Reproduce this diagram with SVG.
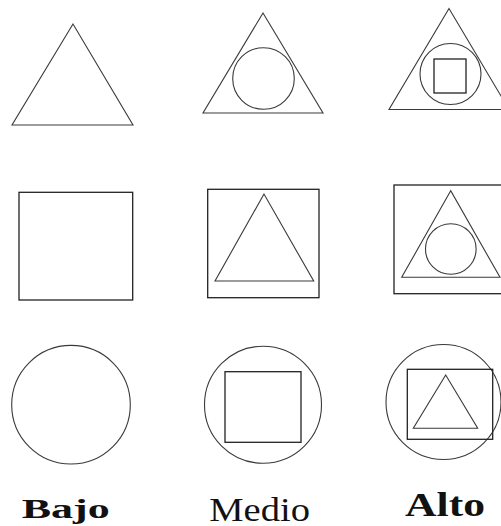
<svg xmlns="http://www.w3.org/2000/svg" width="501" height="526" viewBox="0 0 501 526">
<style>
.s{fill:none;stroke:#3a3a3a;stroke-width:1.1}
.q{fill:none;stroke:#222;stroke-width:1.3}
.t{font-family:"Liberation Serif",serif;fill:#111}
</style>
<rect width="501" height="526" fill="#fff"/>
<g id="bajo-triangle"><polygon class="s" points="73,24 12,125 133,125"/></g>
<g id="medio-triangle"><polygon class="s" points="263,13 203,113 323,113"/><circle class="s" cx="263.5" cy="78.5" r="30.8"/></g>
<g id="alto-triangle"><polygon class="s" points="449,8.5 389,109.5 509,109.5"/><circle class="s" cx="450.5" cy="74" r="30.5"/><rect class="q" x="434" y="59" width="32" height="34"/></g>
<g id="bajo-square"><rect class="q" x="19" y="192.3" width="113.7" height="107.7"/></g>
<g id="medio-square"><rect class="q" x="207.7" y="189.3" width="111.3" height="108.4"/><polygon class="s" points="264,194 215,281 313.7,281"/></g>
<g id="alto-square"><rect class="q" x="394" y="185" width="110" height="108.7"/><polygon class="s" points="450.7,190.7 401.7,277.3 500,277.3"/><circle class="s" cx="450.8" cy="249" r="25.3"/></g>
<g id="bajo-circle"><circle class="s" cx="71" cy="404.7" r="59.3"/></g>
<g id="medio-circle"><circle class="s" cx="263" cy="404.7" r="58.5"/><rect class="q" x="225" y="371.7" width="76" height="70.6"/></g>
<g id="alto-circle"><circle class="s" cx="443.5" cy="402" r="57.5"/><rect class="q" x="407.3" y="369.3" width="85.4" height="70"/><polygon class="s" points="445.7,375 413.3,428.3 477.7,428.3"/></g>
<g id="labels">
<text class="t" x="21.7" y="518.3" font-size="28" font-weight="bold" textLength="88" lengthAdjust="spacingAndGlyphs">Bajo</text>
<text class="t" x="209.3" y="520.7" font-size="34" textLength="100.7" lengthAdjust="spacingAndGlyphs">Medio</text>
<text class="t" x="405" y="515.7" font-size="33" font-weight="bold" textLength="80" lengthAdjust="spacingAndGlyphs">Alto</text>
</g>
</svg>
